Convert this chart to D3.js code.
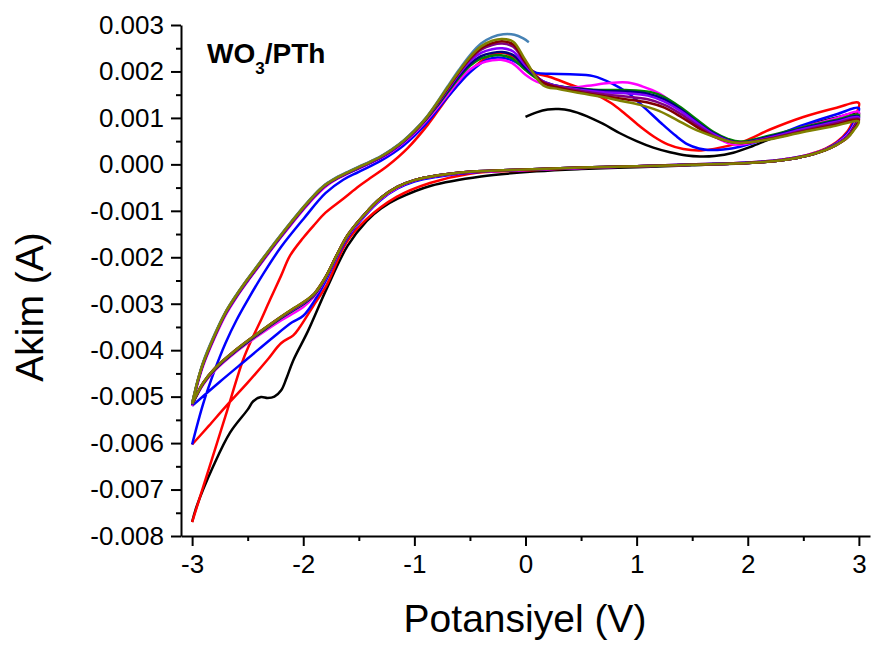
<!DOCTYPE html>
<html>
<head>
<meta charset="utf-8">
<script src="https://cdn.jsdelivr.net/npm/d3@7"></script>
<style>
  html, body { margin: 0; padding: 0; background: #fff; }
  svg { display: block; font-family: "Liberation Sans", Arial, sans-serif; }
</style>
</head>
<body>
<script>
// Cyclic voltammogram of WO3/PTh: potential (V) vs current (A), one array per scan cycle.
// Each point is [potential V, current A].

const cycle1 = [ // first scan, starting at 0 V
  [0.00,0.00102],[0.10,0.00112],[0.20,0.00118],[0.30,0.00119],[0.40,0.00116],[0.55,0.00104],[0.70,0.00087],[0.85,0.00067],
  [1.00,0.00050],[1.15,0.00036],[1.30,0.00026],[1.45,0.00019],[1.57,0.00017],[1.70,0.00018],[1.87,0.00025],[2.05,0.00040],
  [2.30,0.00064],[2.55,0.00085],[2.80,0.00101],[3.00,0.00110],
  [2.95,0.00080],[2.90,0.00062],[2.80,0.00043],[2.70,0.00031],[2.60,0.00023],[2.50,0.00017],[2.30,0.00009],[2.00,0.00003],
  [1.50,-0.00002],[1.00,-0.00006],[0.50,-0.00010],[0.10,-0.00015],[-0.40,-0.00026],[-0.85,-0.00046],[-1.15,-0.00074],
  [-1.30,-0.00095],[-1.43,-0.00122],[-1.60,-0.00175],[-1.79,-0.00268],[-1.96,-0.00360],[-2.09,-0.00422],[-2.15,-0.00460],
  [-2.20,-0.00487],[-2.26,-0.00500],[-2.32,-0.00503],[-2.38,-0.00501],[-2.45,-0.00510],[-2.50,-0.00528],[-2.66,-0.00578],
  [-2.81,-0.00650],[-2.96,-0.00737],[-3.00,-0.00770]
];

const cycle2 = [
  [-3.00,-0.00770],[-2.85,-0.00656],[-2.70,-0.00542],[-2.54,-0.00420],[-2.45,-0.00370],[-2.39,-0.00340],[-2.30,-0.00292],
  [-2.20,-0.00240],[-2.12,-0.00197],[-2.00,-0.00158],[-1.90,-0.00130],[-1.80,-0.00104],[-1.64,-0.00074],[-1.50,-0.00047],
  [-1.40,-0.00030],[-1.24,-0.00003],[-1.06,0.00035],[-0.88,0.00085],[-0.75,0.00128],[-0.65,0.00160],[-0.45,0.00212],
  [-0.30,0.00236],[-0.20,0.00240],[-0.10,0.00230],[0.00,0.00212],[0.10,0.00196],[0.22,0.00188],[0.40,0.00172],[0.60,0.00154],
  [0.77,0.00132],[0.90,0.00108],[1.04,0.00080],[1.16,0.00059],[1.28,0.00043],[1.42,0.00033],[1.58,0.00030],[1.75,0.00036],
  [1.97,0.00050],[2.20,0.00075],[2.50,0.00102],[2.80,0.00122],[3.00,0.00132],
  [2.95,0.00095],[2.90,0.00072],[2.80,0.00048],[2.70,0.00034],[2.60,0.00025],[2.50,0.00018],[2.30,0.00010],[2.00,0.00004],
  [1.50,0.00000],[1.00,-0.00004],[0.50,-0.00008],[0.00,-0.00013],[-0.50,-0.00020],[-0.86,-0.00040],[-1.16,-0.00070],
  [-1.43,-0.00118],[-1.61,-0.00168],[-1.79,-0.00260],[-1.91,-0.00305],[-2.03,-0.00350],[-2.09,-0.00368],[-2.20,-0.00385],
  [-2.32,-0.00420],[-2.50,-0.00470],[-2.70,-0.00522],[-2.85,-0.00563],[-3.00,-0.00603]
];

const cycle3 = [
  [-3.00,-0.00603],[-2.90,-0.00515],[-2.80,-0.00445],[-2.70,-0.00385],[-2.60,-0.00335],[-2.50,-0.00292],[-2.35,-0.00232],
  [-2.20,-0.00178],[-2.00,-0.00118],[-1.80,-0.00062],[-1.64,-0.00033],[-1.50,-0.00016],[-1.30,0.00008],[-1.10,0.00040],
  [-0.90,0.00086],[-0.70,0.00145],[-0.50,0.00198],[-0.35,0.00225],[-0.25,0.00230],[-0.12,0.00224],[0.00,0.00207],
  [0.10,0.00197],[0.22,0.00195],[0.40,0.00194],[0.61,0.00190],[0.78,0.00174],[0.92,0.00154],[1.08,0.00120],[1.22,0.00089],
  [1.35,0.00062],[1.46,0.00043],[1.56,0.00034],[1.64,0.00031],[1.78,0.00032],[1.93,0.00038],[2.20,0.00058],[2.50,0.00085],
  [2.80,0.00108],[3.00,0.00121],
  [2.95,0.00088],[2.90,0.00068],[2.80,0.00046],[2.70,0.00033],[2.60,0.00024],[2.50,0.00018],[2.30,0.00010],[2.00,0.00004],
  [1.50,0.00000],[1.00,-0.00004],[0.50,-0.00008],[0.00,-0.00012],[-0.50,-0.00018],[-0.80,-0.00027],[-1.00,-0.00037],
  [-1.15,-0.00052],[-1.30,-0.00076],[-1.45,-0.00112],[-1.60,-0.00158],[-1.70,-0.00202],[-1.80,-0.00252],[-1.90,-0.00294],
  [-2.00,-0.00326],[-2.10,-0.00340],[-2.27,-0.00372],[-2.50,-0.00418],[-2.75,-0.00468],[-3.00,-0.00520]
];

const cycle4 = [
  [-3.00,-0.00520],[-2.95,-0.00472],[-2.90,-0.00433],[-2.80,-0.00375],[-2.70,-0.00325],[-2.60,-0.00286],[-2.50,-0.00252],
  [-2.40,-0.00220],[-2.30,-0.00188],[-2.20,-0.00157],[-2.10,-0.00127],[-2.00,-0.00098],[-1.90,-0.00071],[-1.80,-0.00048],
  [-1.70,-0.00032],[-1.60,-0.00020],[-1.50,-0.00009],[-1.40,0.00002],[-1.30,0.00014],[-1.20,0.00028],[-1.10,0.00046],
  [-1.00,0.00067],[-0.90,0.00092],[-0.80,0.00120],[-0.70,0.00150],[-0.60,0.00180],[-0.50,0.00204],[-0.40,0.00218],
  [-0.30,0.00224],[-0.22,0.00225],[-0.12,0.00218],[0.00,0.00193],[0.10,0.00178],[0.25,0.00167],[0.40,0.00165],[0.56,0.00169],
  [0.75,0.00175],[0.92,0.00176],[1.05,0.00168],[1.21,0.00152],[1.40,0.00118],[1.58,0.00081],[1.70,0.00060],[1.82,0.00046],
  [1.93,0.00042],[2.20,0.00057],[2.50,0.00080],[2.80,0.00100],[3.00,0.00113],
  [2.95,0.00082],[2.90,0.00064],[2.80,0.00045],[2.70,0.00032],[2.60,0.00024],[2.50,0.00018],[2.40,0.00013],[2.25,0.00008],
  [2.00,0.00003],[1.50,-0.00001],[1.00,-0.00004],[0.50,-0.00008],[0.00,-0.00012],[-0.50,-0.00017],[-0.80,-0.00025],
  [-1.00,-0.00035],[-1.15,-0.00050],[-1.30,-0.00074],[-1.45,-0.00110],[-1.60,-0.00155],[-1.70,-0.00199],[-1.80,-0.00246],
  [-1.90,-0.00284],[-2.00,-0.00307],[-2.10,-0.00322],[-2.20,-0.00336],[-2.40,-0.00368],[-2.60,-0.00403],[-2.80,-0.00445],
  [-2.90,-0.00474],[-3.00,-0.00518]
];

const cycle5 = [
  [-3.00,-0.00518],[-2.95,-0.00468],[-2.90,-0.00428],[-2.80,-0.00370],[-2.70,-0.00321],[-2.60,-0.00283],[-2.50,-0.00249],
  [-2.40,-0.00217],[-2.30,-0.00185],[-2.20,-0.00154],[-2.10,-0.00124],[-2.00,-0.00095],[-1.90,-0.00068],[-1.80,-0.00045],
  [-1.70,-0.00030],[-1.60,-0.00018],[-1.50,-0.00007],[-1.40,0.00004],[-1.30,0.00016],[-1.20,0.00031],[-1.10,0.00049],
  [-1.00,0.00070],[-0.90,0.00095],[-0.80,0.00124],[-0.70,0.00155],[-0.60,0.00186],[-0.50,0.00212],[-0.40,0.00228],
  [-0.30,0.00234],[-0.22,0.00235],[-0.12,0.00228],[0.00,0.00203],[0.15,0.00178],[0.30,0.00168],[0.50,0.00163],[0.70,0.00160],
  [0.90,0.00160],[1.12,0.00156],[1.25,0.00145],[1.39,0.00124],[1.55,0.00095],[1.69,0.00070],[1.82,0.00055],[1.93,0.00049],
  [2.20,0.00062],[2.50,0.00080],[2.80,0.00096],[3.00,0.00106],
  [2.95,0.00078],[2.90,0.00061],[2.80,0.00044],[2.70,0.00031],[2.60,0.00023],[2.50,0.00017],[2.40,0.00012],[2.25,0.00007],
  [2.00,0.00003],[1.50,-0.00001],[1.00,-0.00004],[0.50,-0.00007],[0.00,-0.00011],[-0.50,-0.00016],[-0.80,-0.00024],
  [-1.00,-0.00034],[-1.15,-0.00048],[-1.30,-0.00072],[-1.45,-0.00108],[-1.60,-0.00153],[-1.70,-0.00197],[-1.80,-0.00244],
  [-1.90,-0.00281],[-2.00,-0.00301],[-2.10,-0.00316],[-2.20,-0.00331],[-2.40,-0.00365],[-2.60,-0.00401],[-2.80,-0.00443],
  [-2.90,-0.00472],[-3.00,-0.00518]
];

const cycle6 = [
  [-3.00,-0.00518],[-2.95,-0.00469],[-2.90,-0.00430],[-2.80,-0.00372],[-2.70,-0.00322],[-2.60,-0.00284],[-2.50,-0.00250],
  [-2.40,-0.00218],[-2.30,-0.00186],[-2.20,-0.00155],[-2.10,-0.00125],[-2.00,-0.00096],[-1.90,-0.00069],[-1.80,-0.00046],
  [-1.70,-0.00031],[-1.60,-0.00019],[-1.50,-0.00008],[-1.40,0.00003],[-1.30,0.00015],[-1.20,0.00030],[-1.10,0.00048],
  [-1.00,0.00070],[-0.90,0.00096],[-0.80,0.00126],[-0.70,0.00158],[-0.60,0.00190],[-0.50,0.00216],[-0.40,0.00233],
  [-0.30,0.00240],[-0.21,0.00242],[-0.11,0.00235],[0.00,0.00208],[0.15,0.00180],[0.30,0.00168],[0.50,0.00162],[0.70,0.00158],
  [0.90,0.00157],[1.10,0.00152],[1.25,0.00140],[1.40,0.00118],[1.55,0.00090],[1.70,0.00066],[1.85,0.00050],[1.95,0.00047],
  [2.20,0.00060],[2.50,0.00078],[2.80,0.00094],[3.00,0.00103],
  [2.95,0.00077],[2.90,0.00060],[2.80,0.00043],[2.70,0.00031],[2.60,0.00023],[2.50,0.00017],[2.40,0.00012],[2.25,0.00007],
  [2.00,0.00003],[1.50,-0.00001],[1.00,-0.00004],[0.50,-0.00007],[0.00,-0.00011],[-0.50,-0.00016],[-0.80,-0.00024],
  [-1.00,-0.00034],[-1.15,-0.00048],[-1.30,-0.00072],[-1.45,-0.00108],[-1.60,-0.00153],[-1.70,-0.00197],[-1.80,-0.00244],
  [-1.90,-0.00280],[-2.00,-0.00300],[-2.10,-0.00315],[-2.20,-0.00330],[-2.40,-0.00364],[-2.60,-0.00400],[-2.80,-0.00442],
  [-2.90,-0.00472],[-3.00,-0.00517]
];

const cycle7 = [
  [-3.00,-0.00517],[-2.95,-0.00468],[-2.90,-0.00429],[-2.80,-0.00371],[-2.70,-0.00321],[-2.60,-0.00283],[-2.50,-0.00249],
  [-2.40,-0.00217],[-2.30,-0.00185],[-2.20,-0.00154],[-2.10,-0.00124],[-2.00,-0.00095],[-1.90,-0.00068],[-1.80,-0.00045],
  [-1.70,-0.00030],[-1.60,-0.00018],[-1.50,-0.00007],[-1.40,0.00004],[-1.30,0.00016],[-1.20,0.00031],[-1.10,0.00049],
  [-1.00,0.00071],[-0.90,0.00097],[-0.80,0.00128],[-0.70,0.00161],[-0.60,0.00194],[-0.50,0.00222],[-0.40,0.00240],
  [-0.30,0.00248],[-0.21,0.00250],[-0.11,0.00243],[0.00,0.00213],[0.15,0.00180],[0.30,0.00168],[0.50,0.00160],[0.70,0.00155],
  [0.90,0.00153],[1.10,0.00148],[1.25,0.00135],[1.40,0.00114],[1.55,0.00088],[1.70,0.00064],[1.85,0.00049],[1.95,0.00046],
  [2.20,0.00058],[2.50,0.00076],[2.80,0.00092],[3.00,0.00101],
  [2.95,0.00076],[2.90,0.00060],[2.80,0.00043],[2.70,0.00031],[2.60,0.00023],[2.50,0.00017],[2.40,0.00012],[2.25,0.00007],
  [2.00,0.00003],[1.50,-0.00001],[1.00,-0.00004],[0.50,-0.00007],[0.00,-0.00011],[-0.50,-0.00016],[-0.80,-0.00024],
  [-1.00,-0.00034],[-1.15,-0.00048],[-1.30,-0.00072],[-1.45,-0.00108],[-1.60,-0.00152],[-1.70,-0.00196],[-1.80,-0.00243],
  [-1.90,-0.00279],[-2.00,-0.00299],[-2.10,-0.00314],[-2.20,-0.00329],[-2.40,-0.00363],[-2.60,-0.00399],[-2.80,-0.00441],
  [-2.90,-0.00471],[-3.00,-0.00516]
];

const cycle8 = [
  [-3.00,-0.00516],[-2.95,-0.00467],[-2.90,-0.00428],[-2.80,-0.00370],[-2.70,-0.00320],[-2.60,-0.00282],[-2.50,-0.00248],
  [-2.40,-0.00216],[-2.30,-0.00184],[-2.20,-0.00153],[-2.10,-0.00123],[-2.00,-0.00094],[-1.90,-0.00067],[-1.80,-0.00044],
  [-1.70,-0.00029],[-1.60,-0.00017],[-1.50,-0.00006],[-1.40,0.00005],[-1.30,0.00017],[-1.20,0.00032],[-1.10,0.00050],
  [-1.00,0.00072],[-0.90,0.00098],[-0.80,0.00129],[-0.70,0.00163],[-0.60,0.00197],[-0.50,0.00226],[-0.40,0.00247],
  [-0.30,0.00257],[-0.21,0.00260],[-0.11,0.00253],[0.00,0.00218],[0.15,0.00179],[0.30,0.00167],[0.50,0.00158],[0.70,0.00151],
  [0.90,0.00146],[1.10,0.00140],[1.25,0.00128],[1.40,0.00108],[1.55,0.00083],[1.70,0.00061],[1.85,0.00048],[1.95,0.00046],
  [2.20,0.00056],[2.50,0.00073],[2.80,0.00089],[3.00,0.00098],
  [2.95,0.00075],[2.90,0.00059],[2.80,0.00042],[2.70,0.00031],[2.60,0.00023],[2.50,0.00017],[2.40,0.00012],[2.25,0.00007],
  [2.00,0.00003],[1.50,-0.00001],[1.00,-0.00004],[0.50,-0.00007],[0.00,-0.00011],[-0.50,-0.00016],[-0.80,-0.00024],
  [-1.00,-0.00034],[-1.15,-0.00048],[-1.30,-0.00072],[-1.45,-0.00108],[-1.60,-0.00152],[-1.70,-0.00196],[-1.80,-0.00243],
  [-1.90,-0.00278],[-2.00,-0.00298],[-2.10,-0.00313],[-2.20,-0.00328],[-2.40,-0.00362],[-2.60,-0.00398],[-2.80,-0.00440],
  [-2.90,-0.00470],[-3.00,-0.00516]
];

const cycle9 = [
  [-3.00,-0.00516],[-2.95,-0.00466],[-2.90,-0.00427],[-2.80,-0.00369],[-2.70,-0.00319],[-2.60,-0.00281],[-2.50,-0.00247],
  [-2.40,-0.00215],[-2.30,-0.00183],[-2.20,-0.00152],[-2.10,-0.00122],[-2.00,-0.00093],[-1.90,-0.00066],[-1.80,-0.00044],
  [-1.70,-0.00029],[-1.60,-0.00017],[-1.50,-0.00006],[-1.40,0.00005],[-1.30,0.00017],[-1.20,0.00032],[-1.10,0.00050],
  [-1.00,0.00072],[-0.90,0.00098],[-0.80,0.00130],[-0.70,0.00164],[-0.60,0.00198],[-0.50,0.00228],[-0.40,0.00250],
  [-0.30,0.00261],[-0.21,0.00265],[-0.11,0.00258],[0.00,0.00220],[0.15,0.00177],[0.30,0.00165],[0.50,0.00155],[0.70,0.00147],
  [0.90,0.00140],[1.10,0.00133],[1.25,0.00122],[1.40,0.00102],[1.55,0.00079],[1.70,0.00059],[1.85,0.00048],[1.95,0.00046],
  [2.20,0.00055],[2.50,0.00071],[2.80,0.00086],[3.00,0.00096],
  [2.95,0.00074],[2.90,0.00058],[2.80,0.00042],[2.70,0.00031],[2.60,0.00023],[2.50,0.00017],[2.40,0.00012],[2.25,0.00007],
  [2.00,0.00003],[1.50,-0.00001],[1.00,-0.00004],[0.50,-0.00007],[0.00,-0.00011],[-0.50,-0.00016],[-0.80,-0.00024],
  [-1.00,-0.00034],[-1.15,-0.00048],[-1.30,-0.00072],[-1.45,-0.00108],[-1.60,-0.00152],[-1.70,-0.00196],[-1.80,-0.00243],
  [-1.90,-0.00278],[-2.00,-0.00297],[-2.10,-0.00312],[-2.20,-0.00328],[-2.40,-0.00362],[-2.60,-0.00398],[-2.80,-0.00440],
  [-2.90,-0.00470],[-3.00,-0.00515]
];

const cycle10 = [
  [-3.00,-0.00515],[-2.95,-0.00466],[-2.90,-0.00427],[-2.80,-0.00369],[-2.70,-0.00319],[-2.60,-0.00281],[-2.50,-0.00247],
  [-2.40,-0.00215],[-2.30,-0.00183],[-2.20,-0.00152],[-2.10,-0.00122],[-2.00,-0.00093],[-1.90,-0.00066],[-1.80,-0.00044],
  [-1.70,-0.00029],[-1.60,-0.00017],[-1.50,-0.00006],[-1.40,0.00005],[-1.30,0.00017],[-1.20,0.00032],[-1.10,0.00050],
  [-1.00,0.00072],[-0.90,0.00098],[-0.80,0.00131],[-0.70,0.00166],[-0.60,0.00200],[-0.50,0.00231],[-0.40,0.00254],
  [-0.30,0.00266],[-0.21,0.00270],[-0.11,0.00264],[0.00,0.00224],[0.16,0.00170],[0.30,0.00162],[0.50,0.00153],[0.67,0.00146],
  [0.85,0.00137],[1.03,0.00128],[1.20,0.00115],[1.36,0.00096],[1.50,0.00078],[1.69,0.00060],[1.85,0.00048],[1.93,0.00046],
  [2.20,0.00054],[2.47,0.00068],[2.75,0.00081],[3.00,0.00092],
  [2.95,0.00072],[2.90,0.00058],[2.80,0.00042],[2.70,0.00031],[2.60,0.00023],[2.50,0.00017],[2.40,0.00012],[2.25,0.00007],
  [2.00,0.00003],[1.50,-0.00001],[1.00,-0.00004],[0.50,-0.00007],[0.00,-0.00011],[-0.50,-0.00016],[-0.80,-0.00024],
  [-1.00,-0.00034],[-1.15,-0.00048],[-1.30,-0.00072],[-1.45,-0.00108],[-1.60,-0.00152],[-1.70,-0.00196],[-1.80,-0.00243],
  [-1.90,-0.00278],[-2.00,-0.00297],[-2.10,-0.00312],[-2.20,-0.00328],[-2.40,-0.00362],[-2.60,-0.00398],[-2.80,-0.00440],
  [-2.90,-0.00470],[-3.00,-0.00515]
];

const cycle11 = [ // last scan, stopped near 0 V
  [-3.00,-0.00515],[-2.95,-0.00465],[-2.90,-0.00425],[-2.80,-0.00367],[-2.70,-0.00318],[-2.60,-0.00280],[-2.50,-0.00246],
  [-2.40,-0.00214],[-2.30,-0.00182],[-2.20,-0.00151],[-2.10,-0.00121],[-2.00,-0.00092],[-1.90,-0.00065],[-1.80,-0.00043],
  [-1.70,-0.00028],[-1.60,-0.00016],[-1.50,-0.00005],[-1.40,0.00006],[-1.30,0.00018],[-1.20,0.00033],[-1.10,0.00051],
  [-1.00,0.00073],[-0.90,0.00099],[-0.80,0.00132],[-0.70,0.00168],[-0.60,0.00203],[-0.50,0.00235],[-0.40,0.00260],
  [-0.30,0.00274],[-0.20,0.00280],[-0.10,0.00279],[-0.02,0.00271],[0.03,0.00263]
];

const cycles = [cycle1, cycle2, cycle3, cycle4, cycle5, cycle6, cycle7, cycle8, cycle9, cycle10, cycle11];
const cycleColors = ["#000000", "#ff0000", "#0000ff", "#ff00ff", "#008000", "#000080",
                     "#8000ff", "#800080", "#800000", "#808000", "#4682b4"];
// draw order: last-drawn sits on top
const drawOrder = [0, 1, 2, 3, 4, 5, 6, 7, 8, 10, 9];

const xMajor = [-3, -2, -1, 0, 1, 2, 3];
const xMinor = [-2.5, -1.5, -0.5, 0.5, 1.5, 2.5];
const yMajor = [0.003, 0.002, 0.001, 0, -0.001, -0.002, -0.003, -0.004, -0.005, -0.006, -0.007, -0.008];
const yMinor = [0.0025, 0.0015, 0.0005, -0.0005, -0.0015, -0.0025, -0.0035, -0.0045, -0.0055, -0.0065, -0.0075];

const W = 873, H = 646;
const svg = d3.select("body").append("svg").attr("width", W).attr("height", H);

const x = d3.scaleLinear().domain([-3.1, 3.1]).range([181, 870]);
const y = d3.scaleLinear().domain([-0.008, 0.003]).range([536, 25]);

const line = d3.line()
  .x(d => x(d[0]))
  .y(d => y(d[1]))
  .curve(d3.curveCatmullRom.alpha(0.5));

const plot = svg.append("g");
drawOrder.forEach(i => {
  plot.append("path")
    .datum(cycles[i])
    .attr("fill", "none")
    .attr("stroke", cycleColors[i])
    .attr("stroke-width", 2.5)
    .attr("stroke-linejoin", "round")
    .attr("d", line);
});

// axes
const fmtX = d => String(d);
const fmtY = d => d.toFixed(3);

const xAxis = svg.append("g").attr("transform", "translate(0,536)")
  .call(d3.axisBottom(x).tickValues(xMajor).tickFormat(fmtX).tickSize(10).tickSizeOuter(0).tickPadding(9));
svg.append("g").attr("transform", "translate(0,536)")
  .call(d3.axisBottom(x).tickValues(xMinor).tickFormat("").tickSize(5).tickSizeOuter(0))
  .call(g => g.select(".domain").remove());

const yAxis = svg.append("g").attr("transform", "translate(181,0)")
  .call(d3.axisLeft(y).tickValues(yMajor).tickFormat(fmtY).tickSize(10).tickSizeOuter(0).tickPadding(7));
svg.append("g").attr("transform", "translate(181,0)")
  .call(d3.axisLeft(y).tickValues(yMinor).tickFormat("").tickSize(5).tickSizeOuter(0))
  .call(g => g.select(".domain").remove());

svg.selectAll(".domain, .tick line").attr("stroke", "#000").attr("stroke-width", 2);
xAxis.selectAll("text").attr("font-size", 26).attr("fill", "#000")
  .style("font-family", "'Liberation Sans', Arial, sans-serif");
yAxis.selectAll("text").attr("font-size", 26).attr("fill", "#000")
  .style("font-family", "'Liberation Sans', Arial, sans-serif");

// axis titles
svg.append("text")
  .attr("x", 525).attr("y", 632)
  .attr("text-anchor", "middle")
  .attr("font-size", 39)
  .text("Potansiyel (V)");

svg.append("text")
  .attr("transform", "translate(43,307) rotate(-90)")
  .attr("text-anchor", "middle")
  .attr("font-size", 39)
  .text("Akim (A)");

// sample label
const lab = svg.append("text")
  .attr("x", 207).attr("y", 63)
  .attr("font-size", 28)
  .attr("font-weight", "bold");
lab.append("tspan").text("WO");
lab.append("tspan").attr("font-size", 17).attr("dy", 11).text("3");
lab.append("tspan").attr("dy", -11).text("/PTh");
</script>
</body>
</html>
